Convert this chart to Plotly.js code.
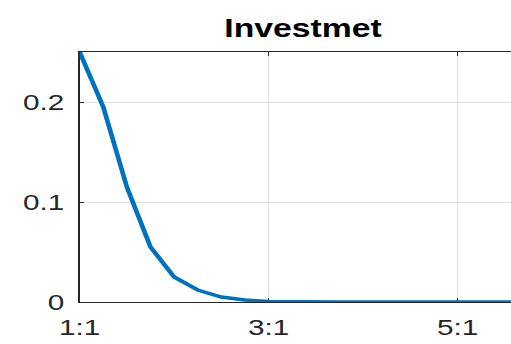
<!DOCTYPE html>
<html>
<head>
<meta charset="utf-8">
<script src="https://cdn.plot.ly/plotly-3.0.1.min.js"></script>
<style>
  html, body { margin: 0; padding: 0; background: #fff; overflow: hidden; width: 511px; height: 344px; }
  /* the figure is drawn narrow and widened horizontally */
  #chart { width: 420px; height: 344px; transform: scaleX(1.35); transform-origin: 0 0; }
</style>
</head>
<body>
<div id="chart"></div>
<script>
// capital ratio on the x axis (numeric positions), investment share on y
const ratio = [1, 1.25, 1.5, 1.75, 2, 2.25, 2.5, 2.75, 3, 3.25, 3.5, 3.75, 4, 4.25, 4.5, 4.75, 5, 5.25, 5.5, 5.75];
const investment = [0.25, 0.195, 0.115, 0.055, 0.025, 0.012, 0.005, 0.002, 0.0005, 0.0001, 0, 0, 0, 0, 0, 0, 0, 0, 0, 0];

const xTickVals = [1, 3, 5];
const xTickText = ["1:1", "3:1", "5:1"];
const yTickVals = [0, 0.1, 0.2];
const yTickText = ["0", "0.1", "0.2"];

const axisColor = "#262626";
const gridColor = "#dfdfdf";
const fontFamily = "'Liberation Sans', Arial, Helvetica, sans-serif";

const trace = {
  x: ratio,
  y: investment,
  type: "scatter",
  mode: "lines",
  line: { color: "#0072BD", width: 3.5 },
  hoverinfo: "skip"
};

const layout = {
  width: 420,
  height: 344,
  margin: { l: 59.3, r: 30, t: 51.7, b: 42.3, pad: 0 },
  paper_bgcolor: "#ffffff",
  plot_bgcolor: "#ffffff",
  showlegend: false,
  font: { family: fontFamily, color: axisColor, size: 22 },
  title: {
    text: "Investmet",
    font: { family: fontFamily, size: 25, weight: "bold", color: "#000000" },
    xref: "paper",
    x: 0.5,
    xanchor: "center",
    yref: "container",
    y: 1 - 28 / 344,
    yanchor: "middle"
  },
  xaxis: {
    range: [1, 5.73],
    tickmode: "array",
    tickvals: xTickVals,
    ticktext: xTickText,
    ticks: "inside",
    ticklen: 4,
    tickcolor: axisColor,
    tickfont: { size: 22, color: axisColor },
    ticklabelstandoff: 6,
    showline: true,
    linecolor: axisColor,
    linewidth: 1,
    mirror: "ticks",
    showgrid: true,
    gridcolor: gridColor,
    gridwidth: 1,
    zeroline: false,
    layer: "below traces",
    fixedrange: true
  },
  yaxis: {
    range: [0, 0.25],
    tickmode: "array",
    tickvals: yTickVals,
    ticktext: yTickText,
    ticks: "inside",
    ticklen: 3,
    tickcolor: axisColor,
    tickfont: { size: 22, color: axisColor },
    ticklabelstandoff: 6,
    showline: true,
    linecolor: axisColor,
    linewidth: 1,
    mirror: "ticks",
    showgrid: true,
    gridcolor: gridColor,
    gridwidth: 1,
    zeroline: false,
    layer: "below traces",
    fixedrange: true
  }
};

Plotly.newPlot("chart", [trace], layout, { staticPlot: true, displayModeBar: false });
</script>
</body>
</html>
